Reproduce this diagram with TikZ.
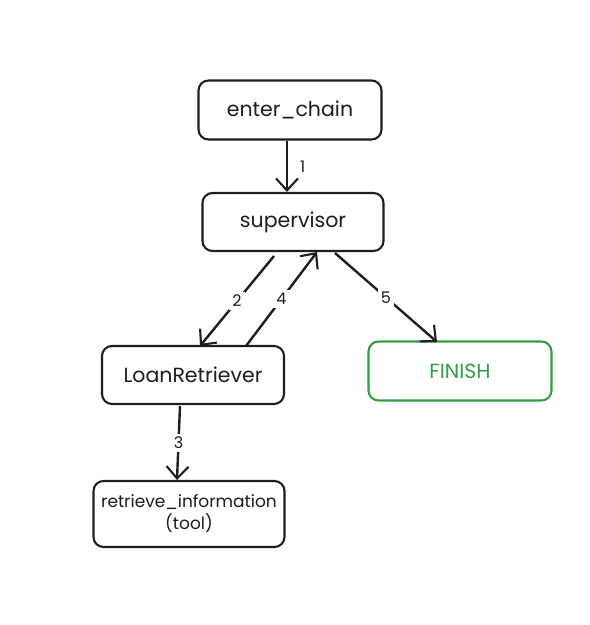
\documentclass[tikz,border=0pt]{standalone}
\usepackage{fontspec}
\setmainfont{Poppins}
\usetikzlibrary{arrows.meta}
\definecolor{exgreen}{HTML}{2F9E44}
\definecolor{exdark}{HTML}{1E1E1E}
\tikzset{
  box/.style={draw=exdark, line width=2.1pt, rounded corners=10pt, fill=white,
    font=\fontsize{20.5}{22}\selectfont, text=exdark, align=center, inner sep=0pt},
  conn/.style={draw=exdark, line width=2.4pt,
    -{Straight Barb[length=12pt,width=22pt,line width=2.1pt]}},
  elabel/.style={fill=white, font=\fontsize{16}{18}\selectfont, text=exdark, inner sep=3pt}
}
\begin{document}
\begin{tikzpicture}[x=1pt,y=-1pt]
\useasboundingbox (0,0) rectangle (590,625);
\node[box, minimum width=183pt, minimum height=59pt] (enter) at (290,110) {enter\_chain};
\node[box, minimum width=181pt, minimum height=58pt] (sup) at (293,222) {supervisor};
\node[box, minimum width=182pt, minimum height=58pt] (loan) at (193,375) {LoanRetriever};
\node[box, draw=exgreen, text=exgreen, minimum width=183pt, minimum height=59pt] (fin) at (460,371) {FINISH};
\node[box, minimum width=191pt, minimum height=66pt, font=\fontsize{17}{22}\selectfont] (ret) at (189,514) {retrieve\_information\\(tool)};

\coordinate (a1s) at (287,142);
\draw[conn] (enter.south -| a1s) -- node[elabel, right=9pt, fill=none] {1} (sup.north -| a1s);
\coordinate (a2s) at (274,256); \coordinate (a2e) at (200,346);
\draw[conn] (a2s) -- node[elabel] {2} (a2e);
\coordinate (a4s) at (246,346); \coordinate (a4e) at (317,252);
\draw[conn] (a4s) -- node[elabel] {4} (a4e);
\coordinate (a5s) at (335,253); \coordinate (a5e) at (437,342);
\draw[conn] (a5s) -- node[elabel] {5} (a5e);
\coordinate (a3s) at (180,406); \coordinate (a3e) at (177,480);
\draw[conn] (a3s) -- node[elabel] {3} (a3e);
\end{tikzpicture}
\end{document}
